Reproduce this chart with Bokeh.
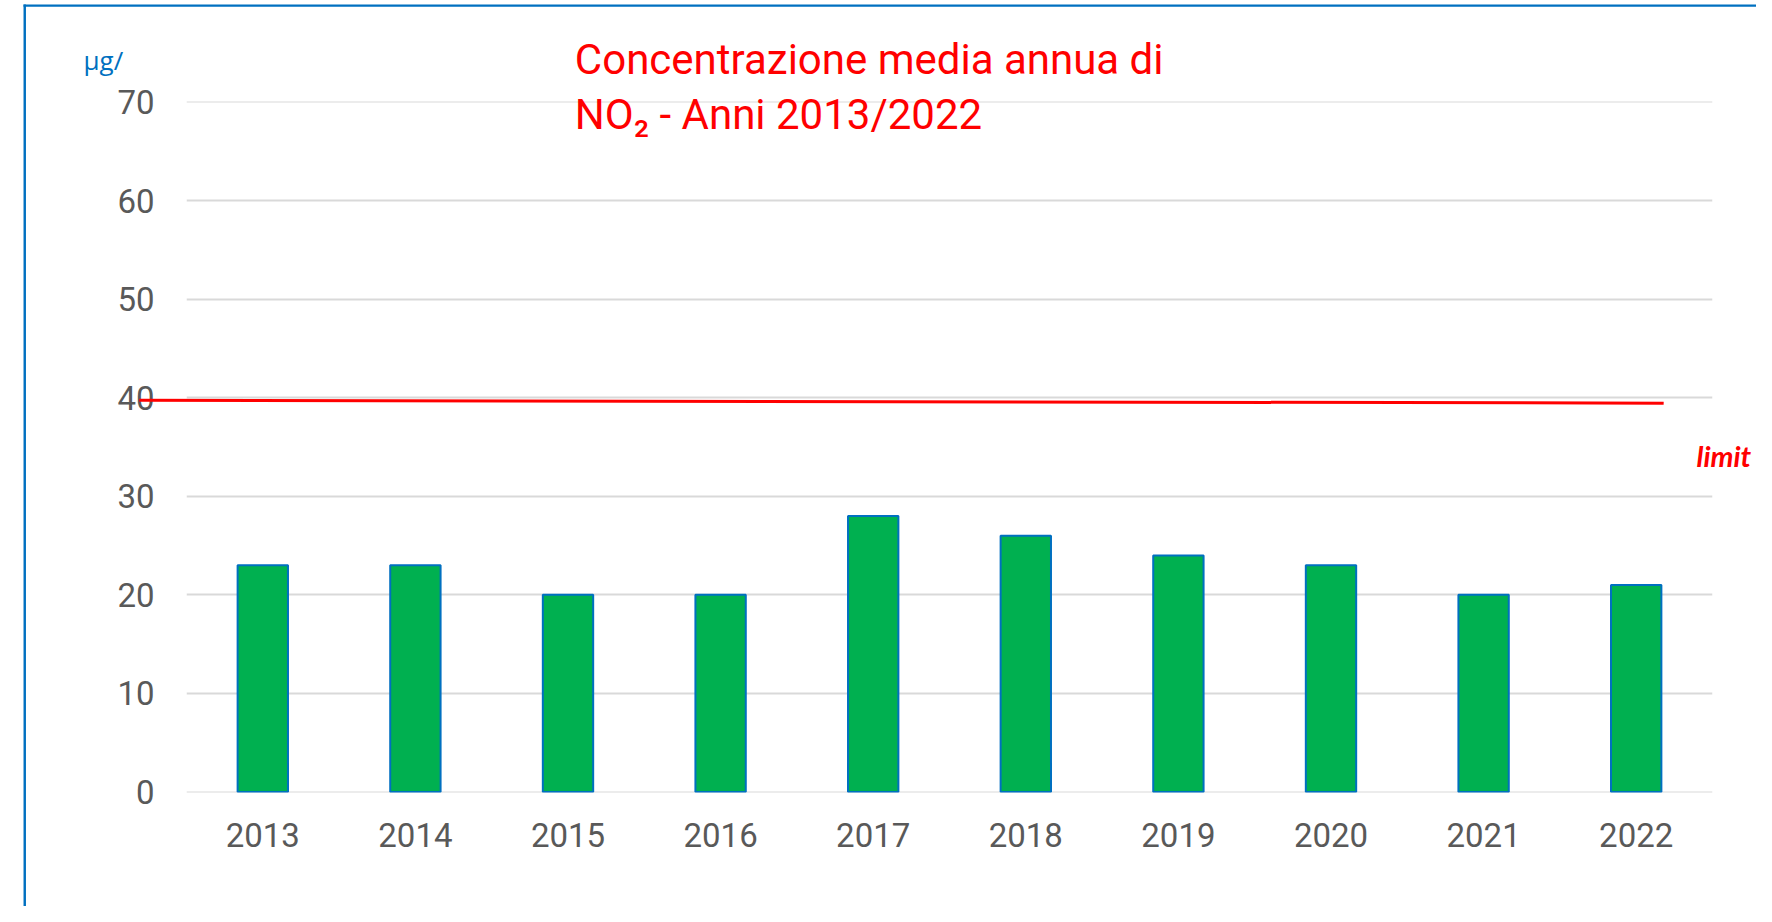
from bokeh.plotting import figure
from bokeh.models import Range1d, FactorRange, SingleIntervalTicker
from bokeh.core.properties import value
from bokeh.embed import file_html
from bokeh.resources import INLINE

# ---- data ----
years = ["2013", "2014", "2015", "2016", "2017", "2018", "2019", "2020", "2021", "2022"]
no2_mean = [23, 23, 20, 20, 28, 26, 24, 23, 20, 21]
limit_line_y = [39.75, 39.45]          # hand-drawn limit line (start, end)
title_lines = ["Concentrazione media annua di", "NO\u2082 - Anni 2013/2022"]
unit_text = "\u03bcg/"
limit_text = "limit"

W, H = 1756, 906
BLUE = "#0070C0"
GREEN = "#00B050"
RED = "#FF0000"
GRAY_TXT = "#595959"

p = figure(width=W, height=H,
           x_range=FactorRange(factors=years, range_padding=0),
           y_range=Range1d(-0.05, 70.05),
           output_backend="svg", toolbar_location=None,
           min_border_left=186, min_border_right=W - 1712,
           min_border_top=101, min_border_bottom=H - 792)
p.outline_line_color = None
p.background_fill_color = "white"
p.border_fill_color = "white"

# grid
p.xgrid.grid_line_color = None
p.ygrid.grid_line_color = "#D9D9D9"
p.ygrid.grid_line_width = 2
p.yaxis.ticker = SingleIntervalTicker(interval=10)

# axes
for ax in (p.xaxis[0], p.yaxis[0]):
    ax.axis_line_color = None
    ax.major_tick_line_color = None
    ax.minor_tick_line_color = None
    ax.major_label_text_color = GRAY_TXT
    ax.major_label_text_font = "Roboto"
    ax.major_label_text_font_size = "33px"
p.yaxis.major_label_standoff = 26
p.xaxis.major_label_standoff = 24

# bars
p.vbar(x=years, top=no2_mean, width=0.33, fill_color=GREEN,
       line_color=BLUE, line_width=2)

# limit line
r = p.line(x=[("2013", -0.81), ("2022", 0.18)], y=limit_line_y,
           line_color=RED, line_width=3)
r.level = "overlay"

def txt(x, y, s, color, font, size, style="normal"):
    g = p.text(x=[x], y=[y], text=[s], text_color=color,
               text_font=value(font), text_font_size=size,
               text_font_style=style, text_baseline="alphabetic",
               text_align="left")
    g.level = "overlay"
    return g

# title
txt(2.545, 74.3, title_lines[0], RED, "Roboto", "42px")
txt(2.545, 68.7, title_lines[1], RED, "Roboto", "42px")
# unit
txt(-0.675, 74.27, unit_text, BLUE, "Open Sans", "26px")
# limit text
txt(9.895, 34.15, limit_text, RED, "Lato", "29px", "bold italic")

# blue frame (left and top edges)
q1 = p.quad(left=[-1.068], right=[-1.052], bottom=[-12.5], top=[79.9],
            fill_color=BLUE, line_color=None)
q1.level = "overlay"
q2 = p.quad(left=[-1.068], right=[10.5], bottom=[79.65], top=[79.9],
            fill_color=BLUE, line_color=None)
q2.level = "overlay"

open("out.html", "w").write(file_html(p, INLINE))
